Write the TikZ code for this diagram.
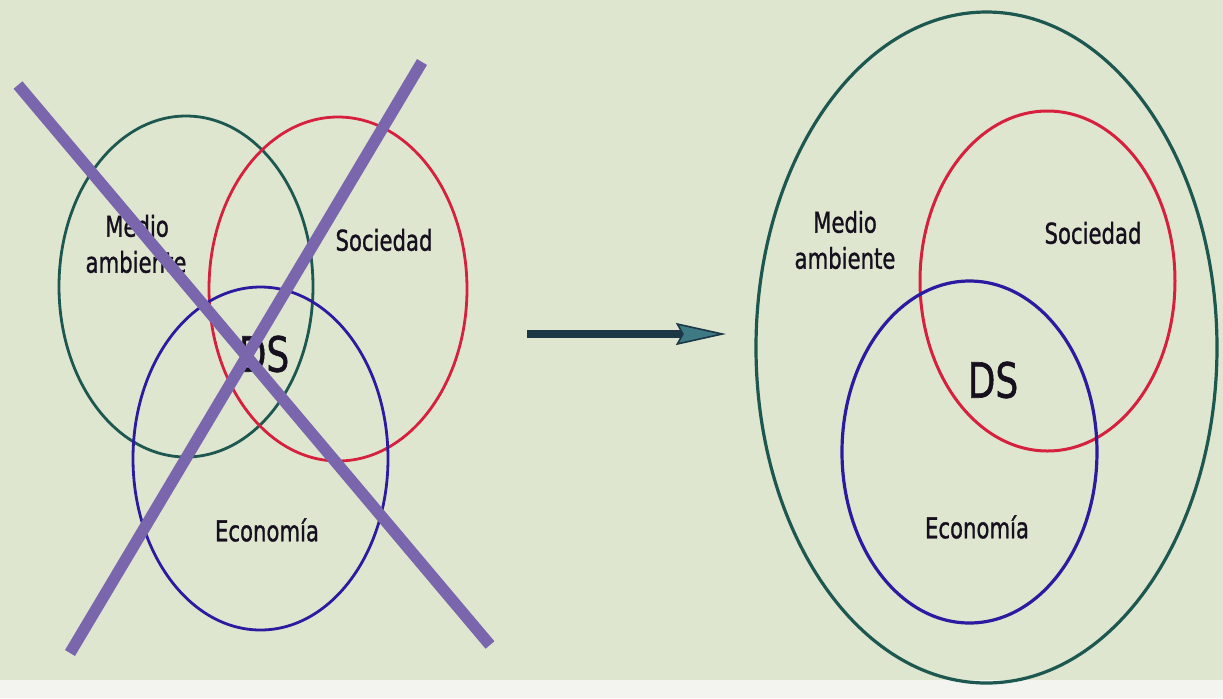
\documentclass[tikz,border=0pt]{standalone}
\usepackage{fontspec}
\usepackage{graphicx}
\setmainfont{DejaVu Sans}
\newfontfamily\heavysans{DejaVu Sans}[FakeBold=1.3]
\usetikzlibrary{shapes.geometric,arrows.meta}
\definecolor{bg}{RGB}{223,230,208}
\definecolor{strip}{RGB}{243,244,240}
\definecolor{ringgreen}{RGB}{28,88,80}
\definecolor{ringred}{RGB}{214,32,62}
\definecolor{ringblue}{RGB}{44,26,160}
\definecolor{crossviolet}{RGB}{122,102,172}
\definecolor{arrowdark}{RGB}{28,55,70}
\definecolor{arrowhead}{RGB}{62,122,132}
\definecolor{ink}{RGB}{22,16,30}
\newcommand{\vstr}[1]{\scalebox{1}[1.35]{#1}}
\tikzset{
  ring/.style={ellipse, draw, inner sep=0pt, line width=1.4pt},
  lbl/.style={font=\heavysans\fontsize{10.6}{13}\selectfont, text=ink, inner sep=0pt},
  dslbl/.style={font=\heavysans\fontsize{18}{20}\selectfont, text=ink, inner sep=0pt},
  cross/.style={draw=crossviolet, line width=5.8pt, line cap=butt},
  bigarrow/.style={draw=arrowdark, line width=4pt,
    -{Stealth[length=25pt, width=11pt, inset=3pt, line width=0.8pt, fill=arrowhead]}}
}
\begin{document}
\begin{tikzpicture}[x=0.5pt,y=-0.5pt]
\fill[bg] (0,0) rectangle (1223,698);
\fill[strip] (0,680) rectangle (1223,698);
\useasboundingbox (0,0) rectangle (1223,698);

% ---- left diagram ----
\node[ring, draw=ringgreen, minimum width=127pt, minimum height=170.5pt] (lgreen) at (186,286.5) {};
\node[ring, draw=ringred, minimum width=129pt, minimum height=172pt] (lred) at (338,289) {};
\node[ring, draw=ringblue, minimum width=127.5pt, minimum height=171.5pt] (lblue) at (260.5,458.5) {};

\node[lbl] (lmedio) at (137,226) {\vstr{Medio}};
\node[lbl] (lamb) at (136,262) {\vstr{ambiente}};
\node[lbl] (lsoc) at (384,240) {\vstr{Sociedad}};
\node[dslbl] (lds) at (264,354) {\vstr{DS}};
\node[lbl] (leco) at (267,530) {\vstr{Economía}};

\coordinate (xa1) at (18,85);
\coordinate (xa2) at (490,645);
\coordinate (xb1) at (422,62);
\coordinate (xb2) at (70,653);
\draw[cross] (xa1) -- (xa2);
\draw[cross] (xb1) -- (xb2);

% ---- arrow ----
\coordinate (arrS) at (527,334);
\coordinate (arrE) at (726,334);
\draw[bigarrow] (arrS) -- (arrE);

% ---- right diagram ----
\node[ring, draw=ringgreen, line width=1.6pt, minimum width=230.5pt, minimum height=335.5pt] (rbig) at (986.5,347.5) {};
\node[ring, draw=ringred, line width=1.5pt, minimum width=127.5pt, minimum height=170pt] (rred) at (1047.5,281) {};
\node[ring, draw=ringblue, line width=1.6pt, minimum width=127.5pt, minimum height=171pt] (rblue) at (969.5,452) {};

\node[lbl] (rmedio) at (845,222) {\vstr{Medio}};
\node[lbl] (ramb) at (845,258) {\vstr{ambiente}};
\node[lbl] (rsoc) at (1093,233) {\vstr{Sociedad}};
\node[dslbl] (rds) at (993,380) {\vstr{DS}};
\node[lbl] (reco) at (977,527) {\vstr{Economía}};
\end{tikzpicture}
\end{document}
